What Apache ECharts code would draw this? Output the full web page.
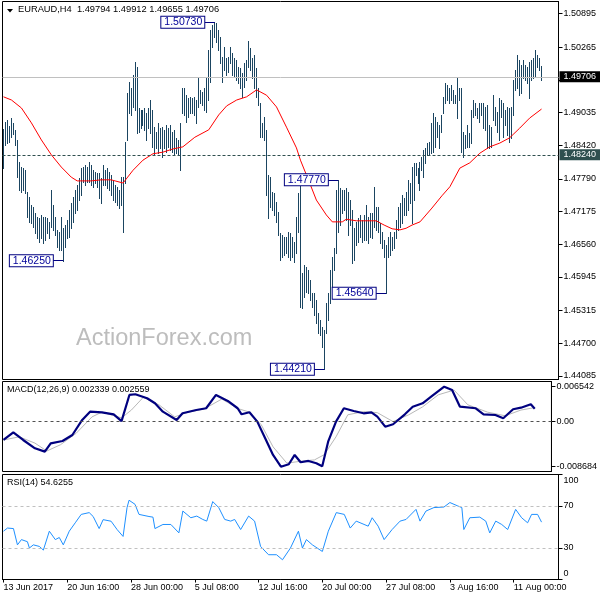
<!DOCTYPE html>
<html><head><meta charset="utf-8">
<script src="https://cdn.jsdelivr.net/npm/echarts@6/dist/echarts.min.js"></script>
<style>html,body{margin:0;padding:0;background:#fff}#c{width:600px;height:600px}</style>
</head><body><div id="c"></div>
<script>
const symbolName = 'EURAUD', timeframe = 'H4';
const lastOHLC = [1.49794, 1.49912, 1.49655, 1.49706];
const timeLabels = ['13 Jun 2017','20 Jun 16:00','28 Jun 00:00','5 Jul 08:00','12 Jul 16:00','20 Jul 00:00','27 Jul 08:00','3 Aug 16:00','11 Aug 00:00'];
const barsPerLabel = 32;
const categoryCount = 279;

const highs = [
1.4873,1.4886,1.4889,1.4878,1.4893,1.4884,1.4871,1.4852,1.4810,1.4801,
1.4799,1.4795,1.4754,1.4745,1.4730,1.4726,1.4715,1.4707,1.4705,1.4711,
1.4707,1.4707,1.4705,1.4698,1.4758,1.4730,1.4707,1.4683,1.4679,1.4707,
1.4686,1.4692,1.4701,1.4720,1.4733,1.4745,1.4758,1.4767,1.4780,1.4799,
1.4801,1.4805,1.4801,1.4810,1.4805,1.4795,1.4792,1.4790,1.4790,1.4780,
1.4805,1.4795,1.4799,1.4792,1.4786,1.4775,1.4767,1.4763,1.4758,1.4782,
1.4782,1.4848,1.4940,1.4961,1.4950,1.4974,1.4998,1.4989,1.4912,1.4908,
1.4908,1.4912,1.4903,1.4912,1.4927,1.4908,1.4876,1.4867,1.4884,1.4874,
1.4876,1.4871,1.4880,1.4874,1.4880,1.4867,1.4871,1.4856,1.4852,1.4884,
1.4950,1.4950,1.4936,1.4931,1.4933,1.4931,1.4933,1.4927,1.4968,1.4946,
1.4942,1.4950,1.4968,1.5021,1.5059,1.5068,1.5073,1.5072,1.5059,1.5045,
1.5008,1.5027,1.5006,1.5008,1.5027,1.5015,1.5006,1.5002,1.4989,1.4987,
1.4978,1.4997,1.5002,1.5038,1.5025,1.5006,1.5012,1.4987,1.4950,1.4921,
1.4884,1.4895,1.4871,1.4786,1.4782,1.4754,1.4752,1.4735,1.4716,1.4677,
1.4673,1.4669,1.4669,1.4679,1.4677,1.4669,1.4660,1.4707,1.4752,1.4771,
1.4602,1.4617,1.4613,1.4607,1.4589,1.4564,1.4564,1.4551,1.4527,1.4513,
1.4500,1.4495,1.4545,1.4564,1.4607,1.4632,1.4649,1.4758,1.4777,1.4762,
1.4758,1.4758,1.4762,1.4754,1.4739,1.4720,1.4686,1.4698,1.4705,1.4711,
1.4701,1.4711,1.4730,1.4707,1.4715,1.4715,1.4763,1.4726,1.4726,1.4696,
1.4679,1.4664,1.4654,1.4669,1.4679,1.4669,1.4679,1.4701,1.4726,1.4733,
1.4748,1.4743,1.4754,1.4777,1.4771,1.4801,1.4809,1.4809,1.4799,1.4810,
1.4820,1.4833,1.4837,1.4846,1.4848,1.4884,1.4903,1.4895,1.4886,1.4880,
1.4899,1.4933,1.4959,1.4955,1.4950,1.4955,1.4946,1.4936,1.4968,1.4950,
1.4950,1.4867,1.4861,1.4880,1.4865,1.4908,1.4927,1.4921,1.4912,1.4921,
1.4921,1.4921,1.4914,1.4918,1.4880,1.4876,1.4936,1.4914,1.4904,1.4931,
1.4927,1.4921,1.4908,1.4914,1.4912,1.4914,1.4965,1.4983,1.5012,1.5002,
1.4993,1.5002,1.4993,1.4989,1.4998,1.5002,1.5006,1.5021,1.5012,1.5006,
1.49912];
const lows = [
1.4799,1.4842,1.4846,1.4848,1.4857,1.4863,1.4842,1.4782,1.4758,1.4754,
1.4758,1.4752,1.4707,1.4698,1.4696,1.4688,1.4677,1.4668,1.4660,1.4668,
1.4658,1.4664,1.4677,1.4668,1.4688,1.4683,1.4673,1.4651,1.4645,1.4645,
1.4625,1.4651,1.4668,1.4669,1.4686,1.4698,1.4715,1.4720,1.4739,1.4748,
1.4773,1.4767,1.4773,1.4773,1.4767,1.4763,1.4771,1.4763,1.4743,1.4733,
1.4767,1.4767,1.4762,1.4758,1.4748,1.4739,1.4735,1.4730,1.4724,1.4730,
1.4679,1.4771,1.4852,1.4903,1.4899,1.4914,1.4908,1.4865,1.4867,1.4874,
1.4880,1.4871,1.4852,1.4874,1.4865,1.4839,1.4824,1.4837,1.4827,1.4837,
1.4820,1.4837,1.4829,1.4839,1.4833,1.4829,1.4824,1.4827,1.4824,1.4795,
1.4903,1.4899,1.4886,1.4895,1.4903,1.4903,1.4899,1.4884,1.4914,1.4921,
1.4918,1.4908,1.4904,1.4927,1.4961,1.5027,1.5045,1.5036,1.5021,1.4997,
1.4961,1.4983,1.4974,1.4980,1.4997,1.4974,1.4970,1.4965,1.4959,1.4950,
1.4933,1.4951,1.4965,1.4989,1.4983,1.4968,1.4950,1.4933,1.4918,1.4857,
1.4857,1.4852,1.4748,1.4705,1.4726,1.4720,1.4711,1.4698,1.4673,1.4626,
1.4632,1.4636,1.4639,1.4632,1.4626,1.4632,1.4622,1.4639,1.4679,1.4538,
1.4536,1.4557,1.4566,1.4564,1.4551,1.4538,1.4523,1.4508,1.4489,1.4485,
1.4463,1.4421,1.4489,1.4513,1.4545,1.4564,1.4607,1.4639,1.4679,1.4692,
1.4715,1.4720,1.4701,1.4673,1.4692,1.4621,1.4626,1.4654,1.4660,1.4669,
1.4660,1.4664,1.4664,1.4658,1.4669,1.4668,1.4688,1.4683,1.4679,1.4658,
1.4649,1.4632,1.4564,1.4632,1.4636,1.4645,1.4649,1.4668,1.4683,1.4688,
1.4696,1.4711,1.4711,1.4720,1.4733,1.4696,1.4739,1.4786,1.4771,1.4758,
1.4795,1.4782,1.4809,1.4824,1.4824,1.4827,1.4829,1.4839,1.4857,1.4837,
1.4867,1.4903,1.4921,1.4927,1.4921,1.4927,1.4921,1.4921,1.4893,1.4927,
1.4829,1.4820,1.4837,1.4839,1.4839,1.4846,1.4895,1.4899,1.4893,1.4886,
1.4899,1.4874,1.4871,1.4837,1.4837,1.4839,1.4889,1.4880,1.4867,1.4852,
1.4895,1.4857,1.4880,1.4861,1.4848,1.4856,1.4899,1.4946,1.4950,1.4936,
1.4940,1.4968,1.4965,1.4959,1.4931,1.4965,1.4968,1.4970,1.4989,1.4983,
1.49655];

const maIdx = [0,4,9,14,19,24,29,34,37,44,49,54,60,65,70,75,80,85,90,96,103,108,112,117,122,127,132,137,142,147,149,153,157,162,165,170,172,177,182,187,191,195,199,202,205,209,215,220,224,229,234,239,244,249,254,259,264,270];
const maVal = [1.4933,1.4927,1.4912,1.4884,1.4852,1.4824,1.4801,1.4782,1.4775,1.4775,1.4777,1.4777,1.4771,1.4795,1.4814,1.4826,1.4829,1.4835,1.4839,1.4857,1.4871,1.4899,1.4916,1.4927,1.4933,1.4946,1.4936,1.4914,1.4876,1.4837,1.4814,1.4777,1.4739,1.4711,1.4698,1.4698,1.4703,1.4700,1.4700,1.4700,1.4692,1.4685,1.4683,1.4686,1.4692,1.4698,1.4724,1.4747,1.4764,1.4799,1.4809,1.4827,1.4839,1.4846,1.4856,1.4874,1.4893,1.4910];

const macdIdx = [0,5,10,16,21,24,30,35,40,44,50,56,60,64,67,73,77,81,88,91,98,103,108,114,119,121,125,129,133,137,141,145,148,151,155,159,162,165,169,173,178,183,187,190,194,198,204,208,213,218,224,228,232,240,244,250,254,259,263,268,270];
const macdVal = [-0.00360,-0.00213,-0.00360,-0.00518,-0.00582,-0.00423,-0.00379,-0.00265,0.00021,0.00179,0.00167,0.00129,0.00000,0.00497,0.00510,0.00434,0.00339,0.00179,0.00021,0.00148,0.00211,0.00244,0.00497,0.00383,0.00244,0.00129,0.00167,-0.00011,-0.00327,-0.00645,-0.00868,-0.00822,-0.00645,-0.00784,-0.00759,-0.00803,-0.00860,-0.00392,-0.00011,0.00244,0.00192,0.00148,0.00167,0.00084,-0.00107,-0.00061,0.00129,0.00274,0.00339,0.00483,0.00654,0.00592,0.00274,0.00244,0.00129,0.00116,0.00053,0.00225,0.00255,0.00320,0.002339];
const sigIdx = [0,8,16,22,29,37,45,50,60,65,71,79,87,94,102,111,119,125,131,137,144,152,158,163,169,175,183,190,198,206,213,221,229,236,246,255,263,270];
const sigVal = [-0.0036,-0.0030,-0.0042,-0.0057,-0.0045,-0.0023,0.0008,0.0017,0.0006,0.0021,0.0045,0.0031,0.0008,0.0017,0.0023,0.0042,0.0024,0.0017,-0.0007,-0.0049,-0.0080,-0.0076,-0.0074,-0.0064,-0.0030,0.0012,0.0018,0.0016,-0.0001,0.0012,0.0027,0.0050,0.0059,0.0031,0.0017,0.0010,0.0021,0.002559];

const rsiIdx = [0,2,5,7,9,12,13,15,18,20,23,26,28,30,33,36,39,43,45,48,50,54,57,60,62,63,66,68,73,75,76,80,84,88,90,94,97,100,102,105,108,111,114,116,119,123,126,129,133,137,140,144,148,150,152,155,160,163,167,171,174,177,183,185,188,191,195,199,202,207,209,212,216,221,224,228,230,231,234,239,242,244,247,250,253,257,260,263,265,268,270];
const rsiVal = [46,49,48.5,33,38,36,30,33,31.5,28,46,38,40,33,46,54,62,63.7,60,48.5,57,55.5,47.6,41,68.5,75.5,71.6,62,60,59.4,48.5,52.4,52.4,44.4,65.2,58.8,60.4,57.2,55.6,74.2,68.5,57.2,55.6,57.2,47.6,60.4,55.6,31.5,23.6,23.6,18.8,30,46,30,38,33,26.7,46,63.7,62,49,55.6,50.8,58.8,50.8,38,47.6,55.6,57.2,66.8,55.6,65.2,68.5,69,73.3,70,68.5,47.6,58.8,59.4,55.6,44.4,55.6,52.4,47.6,66.8,58.8,54,62,62,54.6255];

const macdParams = [12, 26, 9];
const macdLast = [0.002339, 0.002559];
const rsiPeriod = 14;
const rsiLast = 54.6255;

const priceTicks = [1.44085,1.44700,1.45315,1.45945,1.46560,1.47175,1.47790,1.48420,1.49035,1.49650,1.50265,1.50895];
const macdTicks = [-0.008684, 0, 0.006542];
const rsiTicks = [0, 30, 70, 100];
const rsiLevels = [30, 70];
const levelLast = 1.49706;
const levelSR = 1.48240;
const annotations = [
  {bar: 106, value: 1.50730},
  {bar: 30, value: 1.46250},
  {bar: 161, value: 1.44210},
  {bar: 192, value: 1.45640},
  {bar: 168, value: 1.47770}
];

const FF = 'Liberation Sans, Arial, sans-serif';
const categories = Array.from({length: categoryCount}, (_, i) =>
  (i % barsPerLabel === 0 && timeLabels[i / barsPerLabel]) ? timeLabels[i / barsPerLabel] : '');
const bars = highs.map((h, i) => [i, h, lows[i]]);
const pairs = (idx, val) => idx.map((i, k) => [i, val[k]]);

const chart = echarts.init(document.getElementById('c'), null, {renderer: 'canvas'});
const gridCommon = {left: 2.5, width: 556, show: true, borderColor: '#000', borderWidth: 1, backgroundColor: 'transparent'};
const hiddenX = (g) => ({gridIndex: g, type: 'category', data: categories, boundaryGap: true, show: false});
const yCommon = {
  type: 'value', position: 'right', scale: true,
  splitLine: {show: false},
  axisLine: {show: true, lineStyle: {color: '#000', width: 1}},
  axisLabel: {color: '#000', fontSize: 9, fontFamily: FF, margin: 5}
};

chart.setOption({
  animation: false,
  backgroundColor: '#fff',
  grid: [
    Object.assign({top: 1.5, height: 378}, gridCommon),
    Object.assign({top: 381.5, height: 90}, gridCommon),
    Object.assign({top: 474.5, height: 105}, gridCommon)
  ],
  xAxis: [
    hiddenX(0), hiddenX(1),
    {gridIndex: 2, type: 'category', data: categories, boundaryGap: true,
     axisLine: {show: true, lineStyle: {color: '#000'}},
     axisTick: {show: true, alignWithLabel: true, length: 3, lineStyle: {color: '#000'},
                interval: (i, v) => v !== ''},
     axisLabel: {show: true, interval: (i, v) => v !== '', align: 'left', color: '#000',
                 fontSize: 9, fontFamily: FF, margin: 4}}
  ],
  yAxis: [
    Object.assign({}, yCommon, {gridIndex: 0, min: 1.44018, max: 1.51121,
      axisTick: {show: true, length: 4, customValues: priceTicks, lineStyle: {color: '#000'}},
      axisLabel: Object.assign({}, yCommon.axisLabel, {customValues: priceTicks, formatter: v => v.toFixed(5)})}),
    Object.assign({}, yCommon, {gridIndex: 1, min: -0.009598, max: 0.007532,
      axisTick: {show: true, length: 4, customValues: macdTicks, lineStyle: {color: '#000'}},
      axisLabel: Object.assign({}, yCommon.axisLabel, {customValues: macdTicks,
        formatter: v => v === 0 ? '0.00' : v.toFixed(6)})}),
    Object.assign({}, yCommon, {gridIndex: 2, min: 0, max: 100,
      axisTick: {show: true, length: 4, customValues: rsiTicks, lineStyle: {color: '#000'}},
      axisLabel: Object.assign({}, yCommon.axisLabel, {customValues: rsiTicks,
        formatter: v => v === 100 ? '{t|100}' : (v === 0 ? '{b|0}' : String(v)),
        rich: {t: {padding: [12, 0, 0, 0], fontSize: 9, fontFamily: FF, color: '#000'},
               b: {padding: [0, 0, 12, 0], fontSize: 9, fontFamily: FF, color: '#000'}}})})
  ],
  graphic: [
    {type: 'text', left: 76, top: 327, z: 0,
     style: {text: 'ActionForex.com', fontSize: 23.5, fontFamily: FF, fill: '#bdbdbd'}},
    {type: 'polygon', shape: {points: [[7, 9], [13, 9], [10, 12.5]]}, style: {fill: '#000'}},
    {type: 'text', left: 18, top: 5,
     style: {text: symbolName + ',' + timeframe + '  ' + lastOHLC.map(v => v.toFixed(5)).join(' '),
             fontSize: 9.3, fontFamily: FF, fill: '#000'}},
    {type: 'text', left: 7, top: 385,
     style: {text: 'MACD(' + macdParams.join(',') + ') ' + macdLast.map(v => v.toFixed(6)).join(' '),
             fontSize: 9, fontFamily: FF, fill: '#000'}},
    {type: 'text', left: 7, top: 478.5,
     style: {text: 'RSI(' + rsiPeriod + ') ' + rsiLast.toFixed(4), fontSize: 9, fontFamily: FF, fill: '#000'}}
  ],
  series: [
    {type: 'line', name: 'levels', xAxisIndex: 0, yAxisIndex: 0, z: 1,
     data: [[bars.length - 1, levelLast]], showSymbol: false, symbol: 'none', lineStyle: {width: 0},
     markLine: {silent: true, symbol: ['none', 'none'], animation: false, precision: 6,
       data: [
        {yAxis: levelLast, lineStyle: {color: '#c0c0c0', type: 'solid', width: 1},
         label: {show: true, position: 'end', distance: 1, formatter: levelLast.toFixed(5),
                 color: '#fff', backgroundColor: '#000', padding: [1, 4, 1, 4], lineHeight: 9,
                 fontSize: 9, fontFamily: FF}},
        {yAxis: levelSR, lineStyle: {color: '#2f4f4f', type: [3, 2], width: 1},
         label: {show: true, position: 'end', distance: 1, formatter: levelSR.toFixed(5),
                 color: '#fff', backgroundColor: '#2f4f4f', padding: [1, 4, 1, 4], lineHeight: 9,
                 fontSize: 9, fontFamily: FF}}
       ]}},
    {type: 'custom', name: 'bars', xAxisIndex: 0, yAxisIndex: 0, z: 3, clip: true,
     data: bars, encode: {x: 0, y: [1, 2]},
     renderItem: function (params, api) {
       const i = api.value(0);
       const top = api.coord([i, api.value(1)]);
       const bot = api.coord([i, api.value(2)]);
       const x = Math.floor(top[0]);
       const y1 = Math.round(top[1]);
       const y2 = Math.round(bot[1]);
       return {type: 'rect', shape: {x: x, y: y1, width: 1, height: Math.max(1, y2 - y1 + 1)},
               style: {fill: '#1b4561'}};
     }},
    {type: 'line', name: 'MA', xAxisIndex: 0, yAxisIndex: 0, z: 4, data: pairs(maIdx, maVal),
     symbol: 'none', lineStyle: {color: '#ff0000', width: 1}},
    {type: 'line', name: 'notes', xAxisIndex: 0, yAxisIndex: 0, z: 6,
     data: [[annotations[0].bar, annotations[0].value]], symbol: 'none', lineStyle: {width: 0},
     markLine: {silent: true, symbol: ['none', 'none'], animation: false, precision: 6,
       lineStyle: {color: '#000080', width: 1, type: 'solid'}, label: {show: false},
       data: annotations.map(a => [{coord: [a.bar - 5, a.value]}, {coord: [a.bar, a.value]}])},
     markPoint: {silent: true, animation: false, symbol: 'circle', symbolSize: 1, precision: 6,
       itemStyle: {color: 'rgba(0,0,0,0)'},
       data: annotations.map(a => ({coord: [a.bar - 5, a.value],
         label: {show: true, position: 'left', distance: 0, formatter: a.value.toFixed(5),
                 color: '#000099', fontSize: 10.5, fontFamily: FF, lineHeight: 10,
                 backgroundColor: '#fff', borderColor: '#000080', borderWidth: 1,
                 padding: [1, 2, 0, 3]}}))}},
    {type: 'line', name: 'Signal', xAxisIndex: 1, yAxisIndex: 1, z: 3, data: pairs(sigIdx, sigVal),
     symbol: 'none', lineStyle: {color: '#b8b8b8', width: 1},
     markLine: {silent: true, symbol: ['none', 'none'], animation: false, label: {show: false},
       precision: 6, lineStyle: {color: '#505050', type: [3, 3], width: 1}, data: [{yAxis: 0}]}},
    {type: 'line', name: 'MACD', xAxisIndex: 1, yAxisIndex: 1, z: 4, data: pairs(macdIdx, macdVal),
     symbol: 'none', lineStyle: {color: '#00007f', width: 2.2}},
    {type: 'line', name: 'RSI', xAxisIndex: 2, yAxisIndex: 2, z: 4, data: pairs(rsiIdx, rsiVal),
     symbol: 'none', lineStyle: {color: '#1e90ff', width: 1},
     markLine: {silent: true, symbol: ['none', 'none'], animation: false, label: {show: false},
       precision: 2, lineStyle: {color: '#c0c0c0', type: [3, 3], width: 1},
       data: rsiLevels.map(v => ({yAxis: v}))}}
  ]
});
</script></body></html>
